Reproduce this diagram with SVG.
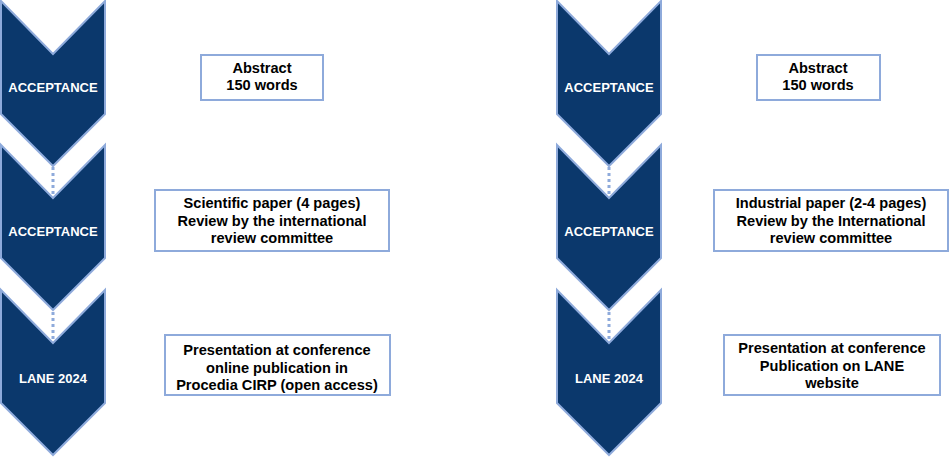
<svg xmlns="http://www.w3.org/2000/svg" width="950" height="458" viewBox="0 0 950 458">
<defs>
<style>
.chev{fill:#0b386c;stroke:#8eaadb;stroke-width:2;stroke-linejoin:miter}
.ct{fill:#ffffff;font-family:"Liberation Sans",Arial,sans-serif;font-weight:bold;font-size:13px;text-anchor:middle}
.box{fill:#ffffff;stroke:#8eaadb;stroke-width:2}
.bt{fill:#000000;font-family:"Liberation Sans",Arial,sans-serif;font-weight:bold;font-size:14.6px;text-anchor:middle}
.con{stroke:#8eaadb;stroke-width:3;stroke-dasharray:3 3;fill:none}
</style>
<polygon id="chevShape" points="0,0 52,53 104,0 104,113 52,165 0,113"/>
</defs>
<rect width="950" height="458" fill="#ffffff"/>

<g id="connectors">
<line class="con" x1="53" y1="167" x2="53" y2="197"/>
<line class="con" x1="53" y1="312" x2="53" y2="342"/>
<line class="con" x1="609" y1="167" x2="609" y2="197"/>
<line class="con" x1="609" y1="312" x2="609" y2="342"/>
</g>

<g id="left-chevron-1">
<use href="#chevShape" class="chev" x="1" y="1"/>
<text class="ct" x="53" y="92">ACCEPTANCE</text>
</g>
<g id="left-chevron-2">
<use href="#chevShape" class="chev" x="1" y="145"/>
<text class="ct" x="53" y="236">ACCEPTANCE</text>
</g>
<g id="left-chevron-3">
<use href="#chevShape" class="chev" x="1" y="290"/>
<text class="ct" x="53" y="383">LANE 2024</text>
</g>

<g id="right-chevron-1">
<use href="#chevShape" class="chev" x="557" y="1"/>
<text class="ct" x="609" y="92">ACCEPTANCE</text>
</g>
<g id="right-chevron-2">
<use href="#chevShape" class="chev" x="557" y="145"/>
<text class="ct" x="609" y="236">ACCEPTANCE</text>
</g>
<g id="right-chevron-3">
<use href="#chevShape" class="chev" x="557" y="290"/>
<text class="ct" x="609" y="383">LANE 2024</text>
</g>

<g id="left-box-1">
<rect class="box" x="201" y="55" width="122" height="45"/>
<text class="bt" x="262" y="72.5">Abstract</text>
<text class="bt" x="262" y="89.5">150 words</text>
</g>
<g id="left-box-2">
<rect class="box" x="155" y="190" width="234" height="61"/>
<text class="bt" x="272" y="208">Scientific paper (4 pages)</text>
<text class="bt" x="272" y="225.5">Review by the international</text>
<text class="bt" x="272" y="243">review committee</text>
</g>
<g id="left-box-3">
<rect class="box" x="165" y="335" width="225" height="60"/>
<text class="bt" x="277" y="355">Presentation at conference</text>
<text class="bt" x="277" y="372.5">online publication in</text>
<text class="bt" x="277" y="390">Procedia CIRP (open access)</text>
</g>

<g id="right-box-1">
<rect class="box" x="757" y="55" width="123" height="45"/>
<text class="bt" x="818" y="72.5">Abstract</text>
<text class="bt" x="818" y="89.5">150 words</text>
</g>
<g id="right-box-2">
<rect class="box" x="714" y="190" width="234" height="61"/>
<text class="bt" x="831" y="208">Industrial paper (2-4 pages)</text>
<text class="bt" x="831" y="225.5">Review by the International</text>
<text class="bt" x="831" y="243">review committee</text>
</g>
<g id="right-box-3">
<rect class="box" x="724" y="335" width="216" height="60"/>
<text class="bt" x="832" y="353">Presentation at conference</text>
<text class="bt" x="832" y="370.5">Publication on LANE</text>
<text class="bt" x="832" y="388">website</text>
</g>
</svg>
